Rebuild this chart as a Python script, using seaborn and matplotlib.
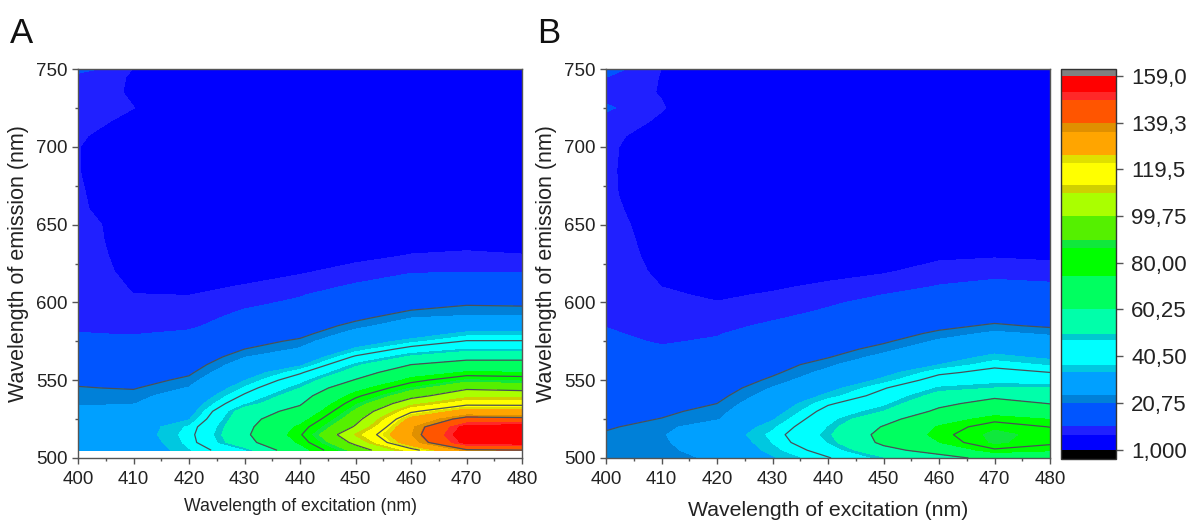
import numpy as np
import matplotlib
matplotlib.use("Agg")
import matplotlib.pyplot as plt
import seaborn as sns

# ==============================
# Values
# ==============================
excitation = [400, 410, 420, 430, 440, 450, 460, 470, 480]

emission_a = [505, 510, 515, 520, 525, 530, 535, 540, 545, 550,
              555, 560, 565, 570, 575, 580, 585, 590, 595, 600,
              605, 610, 620, 630, 640, 650, 660, 670, 685, 700,
              707, 716, 725, 735, 745, 750]
emission_b = [500] + emission_a

# panel A, one list per excitation wavelength
a_400 = [28, 29, 30, 30, 29, 25.5, 23.3, 22.5, 21, 19.8,
         18.8, 17.5, 16.2, 14, 12.4, 11, 10.5, 10.2, 10, 9.9,
         9.8, 9.5, 9.2, 9, 8.9, 8.8, 7.9, 7.7, 7.4, 7.4,
         7.7, 8.6, 9.4, 9, 9.2, 13]
a_410 = [28, 29, 30, 30, 29, 27, 23.8, 22.3, 20.4, 18.5,
         17, 15.5, 14.2, 13, 11.8, 10.7, 9.8, 9, 8.4, 7.8,
         7.35, 7, 6.3, 5.9, 5.5, 5.3, 4.9, 4.8, 4.8, 5,
         5.5, 6.3, 7.35, 6.9, 7, 7.2]
a_420 = [36.5, 38, 38.5, 37.5, 33.3, 30.5, 29, 27, 24.3, 22,
         19.8, 17.8, 16, 14.5, 13, 11.6, 10.1, 9.2, 8.5, 7.8,
         7.25, 6.7, 5.8, 5.2, 4.8, 4.5, 4.3, 4.2, 4.1, 4,
         4, 4, 4, 4, 4, 4]
a_430 = [46.5, 56, 58, 57, 56, 54, 46.5, 41.5, 37.5, 33.5,
         30, 27, 23.8, 20.75, 18.5, 16.5, 13.5, 12.3, 11.1, 9.8,
         8.2, 7.5, 6.2, 5.4, 4.9, 4.6, 4.4, 4.3, 4.3, 4.3,
         4.3, 4.3, 4.3, 4.3, 4.3, 4.3]
a_440 = [70, 75.5, 79, 76, 70, 64, 59, 55, 50, 45,
         39.5, 32.5, 27.5, 24.5, 21.8, 19, 17, 15, 13.3, 11.7,
         10.5, 9.2, 6.8, 5.7, 5, 4.7, 4.5, 4.4, 4.4, 4.4,
         4.4, 4.4, 4.4, 4.4, 4.4, 4.4]
a_450 = [93, 103, 110, 101, 96, 91, 85, 78, 70, 61,
         54, 48.5, 41.5, 34.5, 30, 26, 22.5, 19.5, 17.5, 15.7,
         13.8, 11.6, 8.6, 6.2, 5.2, 4.8, 4.6, 4.5, 4.5, 4.5,
         4.5, 4.5, 4.5, 4.5, 4.5, 4.5]
a_460 = [116, 132, 135, 134, 128, 118, 107, 96, 86.5, 77,
         69, 60.25, 51, 43, 35.5, 30, 27, 24, 20.75, 18.5,
         16, 14.2, 10.4, 7.5, 5.7, 5, 4.8, 4.6, 4.6, 4.6,
         4.6, 4.6, 4.6, 4.6, 4.6, 4.6]
a_470 = [138, 155, 158, 155, 143, 129, 117, 107, 98, 87,
         75, 66, 56, 47.5, 41, 35, 29, 25, 22, 20,
         18, 15.5, 10.6, 8, 5.8, 5.1, 4.9, 4.7, 4.7, 4.7,
         4.7, 4.7, 4.7, 4.7, 4.7, 4.7]
a_480 = [139, 156, 158, 156, 142, 128, 117, 107, 96, 85,
         74.5, 66, 56, 47.5, 41, 35, 29, 25, 22, 19.6,
         17.3, 15, 10.5, 7.5, 5.6, 5, 4.8, 4.7, 4.7, 4.7,
         4.7, 4.7, 4.7, 4.7, 4.7, 4.7]

# panel B
b_400 = [21.5, 21.5, 21.4, 21.3, 20.2, 19.3, 18.4, 17.7, 17, 16.4, 15.8,
         15, 14.3, 13.5, 12.7, 12, 11.3, 10.8, 10.4, 10.1, 10,
         9.9, 9.8, 9.4, 9.1, 9, 8.8, 8.4, 8, 7.9, 8,
         8.3, 9.3, 11.6, 9, 11, 13]
b_410 = [22.8, 23, 23.3, 23.5, 22.5, 20.9, 19.8, 18.8, 17.7, 16.6, 15.5,
         14.5, 13.5, 12.5, 11.4, 10.5, 10, 9.6, 9.1, 8.6, 8.2,
         7.8, 7.3, 6.6, 6.2, 5.8, 5.4, 4.9, 4.8, 4.8, 5,
         5.5, 6.7, 7.55, 7.1, 7.1, 7.25]
b_420 = [24.6, 26, 27.5, 29, 27.5, 23.5, 22.2, 20.75, 19.2, 17.8, 16.5,
         15.3, 14.2, 13.2, 12.3, 11.4, 10.6, 9.8, 8.9, 8.1, 7.4,
         6.8, 6.3, 5.6, 5.1, 4.7, 4.4, 4.2, 4.1, 4.1, 4.1,
         4.1, 4.1, 4.1, 4.1, 4.1, 4.1]
b_430 = [33, 35.5, 37, 38, 36, 33.2, 30.7, 28.7, 26.5, 24.3, 21.8,
         19.8, 18.5, 17, 15.5, 14.3, 13, 11.6, 10.5, 9.6, 8.8,
         7.6, 6.9, 5.9, 5.2, 4.8, 4.5, 4.3, 4.2, 4.2, 4.2,
         4.2, 4.2, 4.2, 4.2, 4.2, 4.2]
b_440 = [40, 43.5, 47.5, 49, 47.5, 45.5, 43, 39.7, 35, 31.5, 28,
         25.5, 23, 20.4, 18.5, 16.8, 15.2, 13.6, 12.2, 11.2, 10.4,
         9.3, 7.9, 6.2, 5.4, 4.9, 4.6, 4.4, 4.3, 4.3, 4.3,
         4.3, 4.3, 4.3, 4.3, 4.3, 4.3]
b_450 = [49, 57, 62.5, 63.5, 61, 56, 50, 46, 43, 40, 35,
         31.5, 29, 25.5, 22.5, 20, 18.2, 16.5, 15, 13.5, 12,
         10.9, 9.4, 6.9, 5.6, 5, 4.7, 4.5, 4.4, 4.4, 4.4,
         4.4, 4.4, 4.4, 4.4, 4.4, 4.4]
b_460 = [56, 65, 74, 77, 75, 69.5, 62.5, 57.5, 52.5, 48, 43.5,
         39.2, 33.7, 30.5, 28, 24.8, 21.8, 19.3, 17.5, 16, 14.5,
         13, 11.2, 8.7, 6.6, 5.4, 4.9, 4.6, 4.5, 4.5, 4.5,
         4.5, 4.5, 4.5, 4.5, 4.5, 4.5]
b_470 = [64, 78.5, 87.5, 88.5, 84.5, 77.5, 70, 64.5, 58, 50, 45.5,
         42.5, 39, 35, 31.5, 28.5, 25, 21.5, 19, 17, 15.5,
         13.8, 12, 9.7, 6.9, 5.5, 5, 4.7, 4.6, 4.6, 4.6,
         4.6, 4.6, 4.6, 4.6, 4.6, 4.6]
b_480 = [65, 75, 82, 83, 79.8, 74, 65.5, 60, 55, 50, 44.5,
         40.5, 36.3, 32.5, 29.5, 26.5, 23.3, 20, 18.2, 16.6, 15,
         13.6, 11.8, 8.8, 6.6, 5.4, 4.9, 4.7, 4.6, 4.6, 4.6,
         4.6, 4.6, 4.6, 4.6, 4.6, 4.6]

# colour bands of the scale and the lines drawn over them
levels = [1, 7.3, 10.9, 20.75, 24, 33.7, 36.9, 47.5, 50, 60.25, 74.2, 86.2,
          89.7, 99.6, 109.4, 113, 122.4, 125.6, 135.5, 139, 148.9, 152.4, 159]
band_colors = ["#000000",
               "#0000ff", "#2020ff", "#0055ff", "#0080d8", "#00a0ff", "#00c8e0",
               "#00ffff", "#00c8d0", "#00ffaa", "#00ff60", "#00ff00", "#10e83c",
               "#55f000", "#aaff00", "#d0d000", "#ffff00", "#e0e000", "#ffa500",
               "#e09000", "#ff5500", "#ff2828", "#ff0000",
               "#808080"]
line_levels = [20.75, 40.5, 60.25, 80, 99.75, 119.5, 139.25]
bar_ticks = [1, 20.75, 40.5, 60.25, 80, 99.75, 119.5, 139.25, 159]
bar_labels = ["1,000", "20,75", "40,50", "60,25", "80,00", "99,75", "119,5", "139,3", "159,0"]

# ==============================
# Style
# ==============================
sns.set_theme(style="ticks", font="Liberation Sans")
W, H = 1192, 521
INK = "#222222"
FRAME = "#555555"

fig = plt.figure(figsize=(W / 100, H / 100), dpi=100)


def px_axes(x0, y0, x1, y1):
    return fig.add_axes([x0 / W, 1 - y1 / H, (x1 - x0) / W, (y1 - y0) / H])


def draw_panel(ax, em, columns, label_size):
    z = np.column_stack(columns)
    cf = ax.contourf(excitation, em, z, levels=levels, colors=sns.color_palette(band_colors),
                     extend="both")
    ax.contour(excitation, em, z, levels=line_levels, colors="#4a5058", linewidths=0.9)
    ax.set_xlim(400, 480)
    ax.set_ylim(500, 750)
    ax.set_xticks(range(400, 481, 10))
    ax.set_xticks(range(405, 481, 10), minor=True)
    ax.set_yticks(range(500, 751, 50))
    ax.set_yticks(range(525, 751, 50), minor=True)
    ax.tick_params(which="major", length=4.5, width=1, color=FRAME, labelsize=13.5,
                   labelcolor=INK, pad=3)
    ax.tick_params(axis="x", which="major", pad=4.5)
    ax.tick_params(which="minor", length=2.5, width=1, color=FRAME)
    for side in ax.spines.values():
        side.set_color(FRAME)
        side.set_linewidth(1)
    ax.set_xlabel("Wavelength of excitation (nm)", fontsize=label_size, color=INK, va="top")
    ax.set_ylabel("Wavelength of emission (nm)", fontsize=15.5, color=INK)
    return cf


ax_a = px_axes(78, 69, 522, 458)
cf = draw_panel(ax_a, emission_a, [a_400, a_410, a_420, a_430, a_440, a_450, a_460, a_470, a_480], 12.7)
ax_a.xaxis.set_label_coords(0.5, -0.103)
ax_a.yaxis.set_label_coords((29 - 78) / 444, 0.5)

ax_b = px_axes(606, 69, 1050, 458)
draw_panel(ax_b, emission_b, [b_400, b_410, b_420, b_430, b_440, b_450, b_460, b_470, b_480], 15.3)
ax_b.xaxis.set_label_coords(0.5, -0.111)
ax_b.yaxis.set_label_coords((557 - 606) / 444, 0.5)

# scale on the right
cax = px_axes(1061, 69, 1116, 459)
bar = fig.colorbar(cf, cax=cax, spacing="proportional", extend="both", extendrect=True,
                   extendfrac=(9.5 / 374, 7 / 374), drawedges=False)
bar.set_ticks(bar_ticks, labels=bar_labels)
bar.ax.minorticks_off()
bar.ax.tick_params(length=5, width=1, color=FRAME, labelsize=16, labelcolor=INK, pad=6)
bar.outline.set_edgecolor("#333333")
bar.outline.set_linewidth(1)

fig.text(10 / W, 1 - 43 / H, "A", fontsize=25, color="#111111")
fig.text(537 / W, 1 - 43 / H, "B", fontsize=25, color="#111111")

fig.savefig("out.png", dpi=100)
